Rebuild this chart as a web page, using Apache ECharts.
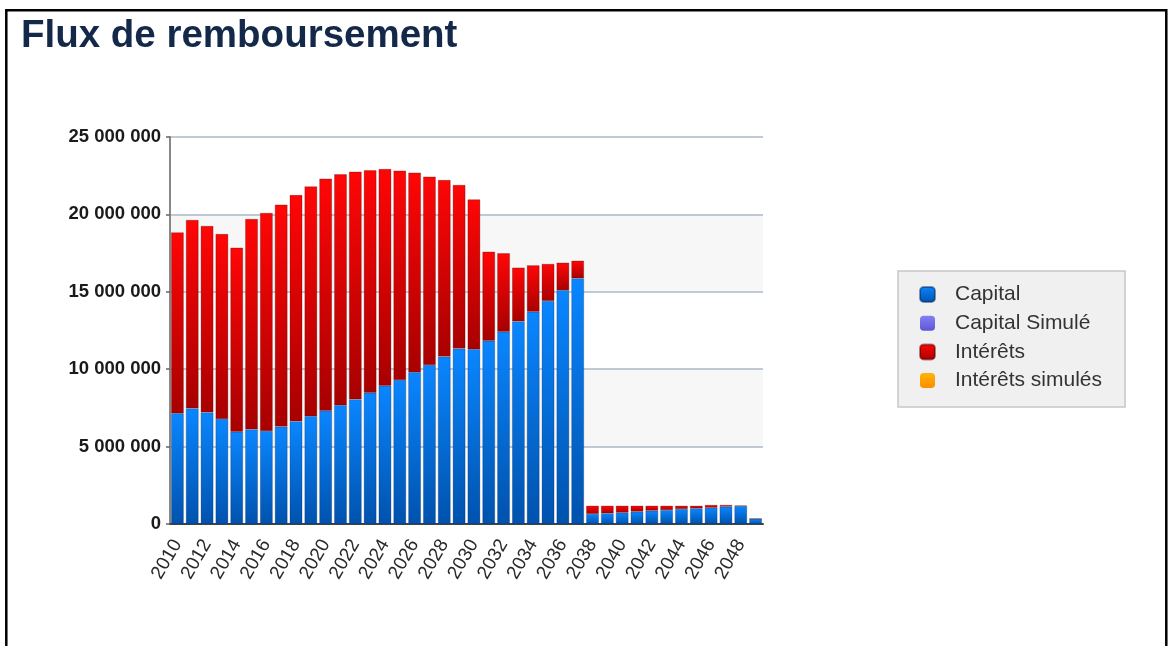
<!DOCTYPE html>
<html>
<head>
<meta charset="utf-8">
<title>Flux de remboursement</title>
<script src="https://cdn.jsdelivr.net/npm/echarts@6/dist/echarts.min.js"></script>
<style>
  html, body { margin: 0; padding: 0; background: #fff; overflow: hidden; }
  #chart { width: 1168px; height: 646px; }
</style>
</head>
<body>
<div id="chart"></div>
<script>
const years = ['2010','2011','2012','2013','2014','2015','2016','2017','2018','2019',
  '2020','2021','2022','2023','2024','2025','2026','2027','2028','2029',
  '2030','2031','2032','2033','2034','2035','2036','2037','2038','2039',
  '2040','2041','2042','2043','2044','2045','2046','2047','2048','2049']

const capital = [7150000, 7470000, 7210000, 6780000, 5960000, 6110000, 6010000, 6290000, 6630000, 6960000,
  7320000, 7670000, 8050000, 8480000, 8930000, 9300000, 9800000, 10270000, 10810000, 11330000,
  11290000, 11840000, 12420000, 13090000, 13710000, 14410000, 15100000, 15870000, 650000, 690000,
  730000, 800000, 860000, 900000, 970000, 1010000, 1050000, 1120000, 1160000, 340000]

const interets = [11690000, 12170000, 12040000, 11950000, 11890000, 13590000, 14080000, 14340000, 14620000, 14850000,
  14990000, 14920000, 14710000, 14370000, 14000000, 13530000, 12900000, 12170000, 11410000, 10570000,
  9680000, 5750000, 5070000, 3470000, 3000000, 2390000, 1780000, 1140000, 530000, 490000,
  450000, 380000, 320000, 280000, 210000, 170000, 180000, 110000, 40000, 10000]

// simulated flows: nothing drawn in the picture
const capitalSimule = []
const interetsSimules = []

const yTicks = [0, 5000000, 10000000, 15000000, 20000000, 25000000]

const fmt = (v) => String(v).replace(/\B(?=(\d{3})+(?!\d))/g, ' ')

const grad = (top, bottom) => new echarts.graphic.LinearGradient(0, 0, 0, 1, [
  { offset: 0, color: top },
  { offset: 1, color: bottom }
])

const myChart = echarts.init(document.getElementById('chart'), null, { renderer: 'canvas' })

const option = {
  animation: false,
  backgroundColor: '#fff',
  title: {
    text: 'Flux de remboursement',
    left: 21,
    top: 17,
    padding: 0,
    textStyle: {
      fontFamily: 'Liberation Sans, Arial, sans-serif',
      fontSize: 38.5,
      fontWeight: 'bold',
      color: '#14294a'
    }
  },
  graphic: [{
    type: 'polyline',
    shape: { points: [[6.3, 646], [6.3, 10.3], [1166.3, 10.3], [1166.3, 646]] },
    style: { stroke: '#000', lineWidth: 2.5, fill: null }
  }],
  legend: {
    orient: 'vertical',
    left: 898,
    top: 271,
    padding: [13, 23, 16, 21],
    itemGap: 7.7,
    itemWidth: 15,
    itemHeight: 15,
    icon: 'roundRect',
    backgroundColor: '#f0f0f0',
    borderColor: '#c6c6c6',
    borderWidth: 1.5,
    textStyle: {
      fontFamily: 'Liberation Sans, Arial, sans-serif',
      fontSize: 21,
      color: '#333',
      padding: [0, 0, 0, 15]
    },
    data: ['Capital', 'Capital Simulé', 'Intérêts', 'Intérêts simulés']
  },
  grid: {
    left: 170,
    right: 405,
    top: 137,
    bottom: 122,
    containLabel: false
  },
  xAxis: {
    type: 'category',
    data: years,
    boundaryGap: true,
    axisLine: { lineStyle: { color: '#444', width: 2 } },
    axisTick: {
      interval: 1,
      length: 7,
      lineStyle: { color: '#444', width: 2 }
    },
    axisLabel: {
      interval: 1,
      rotate: 60,
      margin: 17,
      fontFamily: 'Liberation Sans, Arial, sans-serif',
      fontSize: 19,
      color: '#2a2a2a'
    }
  },
  yAxis: {
    type: 'value',
    min: yTicks[0],
    max: yTicks[yTicks.length - 1],
    interval: yTicks[1] - yTicks[0],
    axisLine: { show: true, lineStyle: { color: '#888', width: 2 } },
    axisTick: { show: true, length: 4, lineStyle: { color: '#666', width: 1.5 } },
    axisLabel: {
      margin: 9,
      formatter: fmt,
      fontFamily: 'Liberation Sans, Arial, sans-serif',
      fontSize: 18.5,
      fontWeight: 'bold',
      color: '#1a1a1a'
    },
    splitLine: { lineStyle: { color: '#aab8c9', width: 1.5 } },
    splitArea: { show: true, areaStyle: { color: ['rgba(255,255,255,0)', '#f7f7f8'] } }
  },
  series: [
    {
      name: 'Capital',
      type: 'bar',
      stack: 'flux',
      barCategoryGap: '15%',
      data: capital,
      itemStyle: {
        color: grad('#0a86ff', '#0052ad'),
        borderColor: 'rgba(0,30,80,0.45)',
        borderWidth: 0.6
      }
    },
    {
      name: 'Capital Simulé',
      type: 'bar',
      stack: 'flux',
      data: capitalSimule,
      itemStyle: { color: grad('#8580f2', '#5d56d6') }
    },
    {
      name: 'Intérêts',
      type: 'bar',
      stack: 'flux',
      data: interets,
      itemStyle: {
        color: grad('#ff0606', '#a80000'),
        borderColor: 'rgba(70,0,0,0.45)',
        borderWidth: 0.6
      }
    },
    {
      name: 'Intérêts simulés',
      type: 'bar',
      stack: 'flux',
      data: interetsSimules,
      itemStyle: { color: grad('#ffb400', '#ff8c00') }
    }
  ]
}

myChart.setOption(option)

window.addEventListener('resize', () => {
  myChart.resize()
})
</script>
</body>
</html>
